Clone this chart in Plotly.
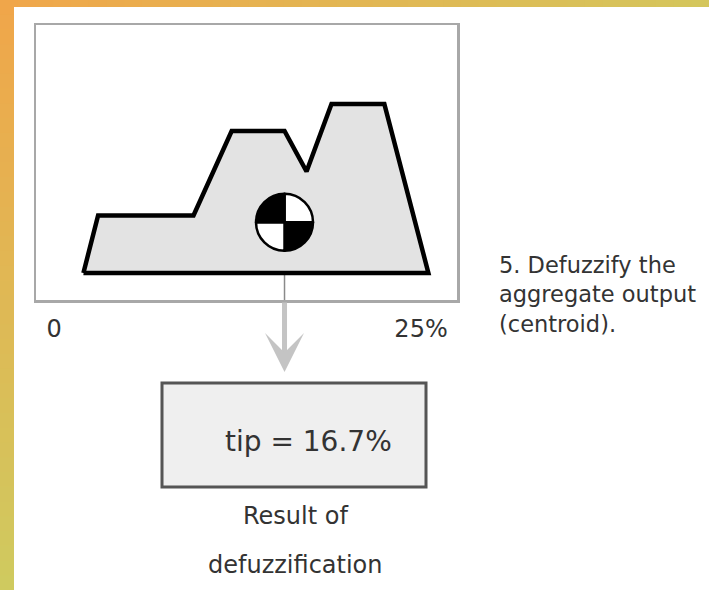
import plotly.graph_objects as go

W, H = 709, 590

# ---------------- data ----------------
tip_pct = [2.0, 3.0, 9.5, 12.1, 15.7, 17.2, 18.9, 22.5, 25.5, 2.0]
membership = [0.0, 0.34, 0.34, 0.84, 0.84, 0.60, 1.0, 1.0, 0.0, 0.0]
tick_vals = [0, 25]
tick_text = ["0", "25%"]
centroid_x = 15.7     # where the centroid mark is drawn
centroid_y = 0.30
quadrants = [1, 1, 1, 1]
quadrant_colors = ["white", "black", "white", "black"]
result_text = "tip = 16.7%"
step_label = ["5. Defuzzify the", "aggregate output", "(centroid)."]
result_caption = ["Result of", "defuzzification"]

# ---------------- layout geometry ----------------
X_RANGE = [-1.23, 27.45]
Y_RANGE = [-0.16, 1.467]
X_DOM = [36 / W, 457 / W]
Y_DOM = [1 - 300 / H, 1 - 25 / H]
FONT = "DejaVu Sans"
TXT = "#333333"


def px_x(v):
    return (X_DOM[0] + (v - X_RANGE[0]) / (X_RANGE[1] - X_RANGE[0]) * (X_DOM[1] - X_DOM[0])) * W


def px_y(v):
    return (1 - (Y_DOM[0] + (v - Y_RANGE[0]) / (Y_RANGE[1] - Y_RANGE[0]) * (Y_DOM[1] - Y_DOM[0]))) * H


fig = go.Figure()

# thin guide from the centroid down to the frame
fig.add_trace(go.Scatter(
    x=[centroid_x, centroid_x], y=[0, Y_RANGE[0]], mode="lines",
    line=dict(color="#8a8a8a", width=1.5), hoverinfo="skip", showlegend=False,
))

# aggregated output polygon
fig.add_trace(go.Scatter(
    x=tip_pct, y=membership, mode="lines", fill="toself",
    fillcolor="#e3e3e3", line=dict(color="black", width=4.5),
    hoverinfo="skip", showlegend=False,
))

# centroid symbol (4 quadrants)
cx, cy = px_x(centroid_x), px_y(centroid_y)
r = 28.5
fig.add_trace(go.Pie(
    values=quadrants, sort=False, direction="clockwise", rotation=0,
    marker=dict(colors=quadrant_colors, line=dict(color="black", width=2.5)),
    textinfo="none", hoverinfo="skip", showlegend=False,
    domain=dict(x=[(cx - r) / W, (cx + r) / W], y=[1 - (cy + r) / H, 1 - (cy - r) / H]),
))

shapes = []


def lerp(c1, c2, t):
    a = [int(c1[i:i + 2], 16) for i in (1, 3, 5)]
    b = [int(c2[i:i + 2], 16) for i in (1, 3, 5)]
    return "rgb(%d,%d,%d)" % tuple(round(a[k] + (b[k] - a[k]) * t) for k in range(3))


N = 40
TL, TR, BL = "#f0a64a", "#d4c65c", "#cfca5f"
for i in range(N):
    t = (i + 0.5) / N
    shapes.append(dict(type="rect", xref="paper", yref="paper",
                       x0=i / N, x1=(i + 1) / N + 0.002, y0=1 - 7 / H, y1=1,
                       fillcolor=lerp(TL, TR, t), line=dict(width=0)))
    shapes.append(dict(type="rect", xref="paper", yref="paper",
                       x0=0, x1=14 / W, y0=1 - (i + 1) / N - 0.002, y1=1 - i / N,
                       fillcolor=lerp(TL, BL, t), line=dict(width=0)))

# result box
shapes.append(dict(type="rect", xref="paper", yref="paper",
                   x0=162 / W, x1=426 / W, y0=1 - 487 / H, y1=1 - 383 / H,
                   fillcolor="#efefef", line=dict(color="#555555", width=3)))

annotations = []
# arrow from the frame down to the result box
annotations.append(dict(
    x=centroid_x, xref="x", y=1 - 372 / H, yref="paper",
    ax=0, ay=-(372 - 301), text="", font=dict(size=1),
    showarrow=True, arrowhead=3, arrowsize=1.3, arrowwidth=5,
    arrowcolor="#c4c4c4", standoff=0,
))
annotations.append(dict(
    x=308.5 / W, y=1 - 441 / H, xref="paper", yref="paper", text=result_text,
    showarrow=False, xanchor="center", yanchor="middle",
    font=dict(family=FONT, size=28, color=TXT),
))
for txt, yy in zip(result_caption, [516, 565]):
    annotations.append(dict(
        x=295 / W, y=1 - yy / H, xref="paper", yref="paper", text=txt,
        showarrow=False, xanchor="center", yanchor="middle",
        font=dict(family=FONT, size=24, color=TXT),
    ))
annotations.append(dict(
    x=497 / W, y=1 - 294 / H, xref="paper", yref="paper",
    text="<br>".join(step_label), align="left",
    showarrow=False, xanchor="left", yanchor="middle",
    font=dict(family=FONT, size=22.5, color=TXT),
))

fig.update_layout(
    width=W, height=H, margin=dict(l=0, r=0, t=0, b=0),
    paper_bgcolor="white", plot_bgcolor="white",
    showlegend=False, shapes=shapes, annotations=annotations,
    xaxis=dict(domain=X_DOM, range=X_RANGE, showgrid=False, zeroline=False,
               showline=True, mirror=True, linecolor="#a8a8a8", linewidth=2.5,
               tickvals=tick_vals, ticktext=tick_text, ticks="",
               ticklabelstandoff=6,
               tickfont=dict(family=FONT, size=24, color=TXT), fixedrange=True),
    yaxis=dict(domain=Y_DOM, range=Y_RANGE, showgrid=False, zeroline=False,
               showline=True, mirror=True, linecolor="#a8a8a8", linewidth=2.5,
               showticklabels=False, ticks="", fixedrange=True),
)

fig.write_html(
    "out.html",
    config={"displayModeBar": False, "staticPlot": True},
    post_script="document.body.style.margin='0px';document.body.style.overflow='hidden';",
)
